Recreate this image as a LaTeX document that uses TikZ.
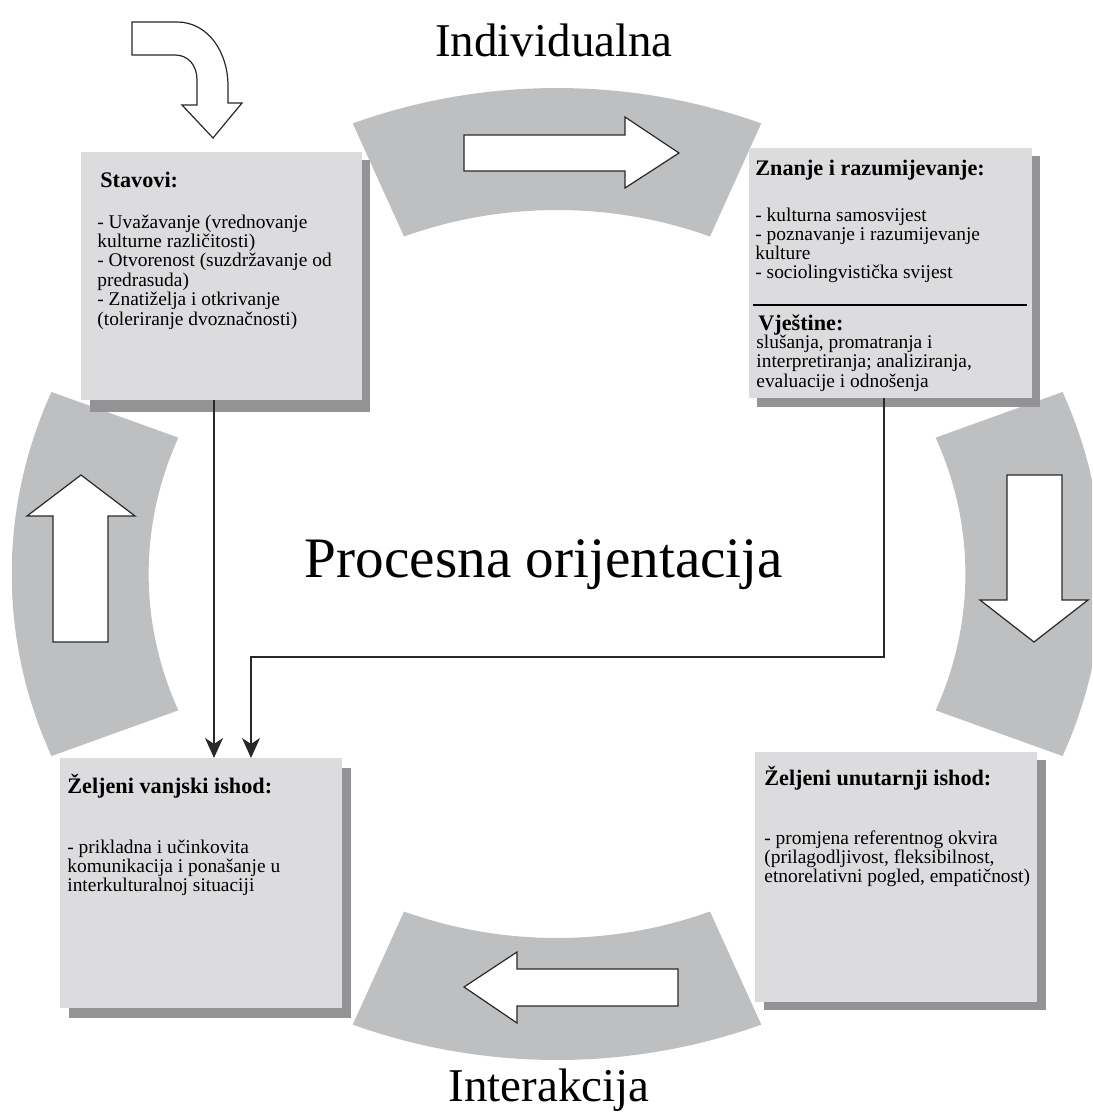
\documentclass[tikz,border=0pt]{standalone}
\usepackage{fontspec}
\setmainfont{Liberation Serif}
\usetikzlibrary{arrows.meta}
\definecolor{arcc}{RGB}{190,191,193}
\definecolor{boxc}{RGB}{220,220,222}
\definecolor{shadc}{RGB}{147,147,150}
\definecolor{linec}{RGB}{40,40,40}
\begin{document}
\begin{tikzpicture}[x=0.5pt,y=-0.5pt,
  sector/.style={fill=arcc},
  blk/.style={fill=white,draw=linec,line width=0.6pt,line join=miter},
  box/.style={fill=boxc,inner sep=0pt,outer sep=0pt},
  shd/.style={fill=shadc},
  conn/.style={draw=linec,line width=0.7pt,-{Stealth[length=10pt,width=9pt,inset=3pt]}},
  big/.style={anchor=base,inner sep=0pt,font=\fontsize{23.5pt}{26pt}\selectfont},
  hd/.style={anchor=base west,inner sep=0pt,font=\fontsize{11.1pt}{13pt}\selectfont\bfseries},
  txt/.style={anchor=base west,inner sep=0pt,font=\fontsize{9.7pt}{11pt}\selectfont}]
\useasboundingbox (0,0) rectangle (1092,1113);
\clip (0,0) rectangle (1092,1113);

% ring sectors
\fill[sector] plot[domain=248:292,samples=40] ({557+545.3*cos(\x)},{574+486*sin(\x)})
  -- plot[domain=292:248,samples=40] ({557+408.4*cos(\x)},{574+364*sin(\x)}) -- cycle;
\fill[sector] plot[domain=-22:22,samples=40] ({557+545.3*cos(\x)},{574+486*sin(\x)})
  -- plot[domain=22:-22,samples=40] ({557+408.4*cos(\x)},{574+364*sin(\x)}) -- cycle;
\fill[sector] plot[domain=68:112,samples=40] ({557+545.3*cos(\x)},{574+486*sin(\x)})
  -- plot[domain=112:68,samples=40] ({557+408.4*cos(\x)},{574+364*sin(\x)}) -- cycle;
\fill[sector] plot[domain=158:202,samples=40] ({557+545.3*cos(\x)},{574+486*sin(\x)})
  -- plot[domain=202:158,samples=40] ({557+408.4*cos(\x)},{574+364*sin(\x)}) -- cycle;

% block arrows
\draw[blk] (464,135) -- (625,135) -- (625,117) -- (679,153) -- (625,188) -- (625,171) -- (464,171) -- cycle;
\draw[blk] (1007,475) -- (1062,475) -- (1062,600) -- (1088,600) -- (1034,642) -- (980,600) -- (1007,600) -- cycle;
\draw[blk] (53,642) -- (53,516) -- (27,516) -- (81,475) -- (135,516) -- (108,516) -- (108,642) -- cycle;
\draw[blk] (678,969) -- (517,969) -- (517,952) -- (464,987) -- (517,1023) -- (517,1006) -- (678,1006) -- cycle;

% curved arrow
\draw[blk] (132,22) -- (177,22) .. controls (208,22) and (228,52) .. (228,86) -- (228,103) -- (242,103)
  -- (213,138) -- (182,105) -- (197,105) -- (197,80) .. controls (197,65) and (188,55) .. (175,55)
  -- (132,55) -- cycle;

% shadows
\fill[shd] (90,160) rectangle (370,412);
\fill[shd] (757,156) rectangle (1040,407);
\fill[shd] (69,768) rectangle (351,1018);
\fill[shd] (764,760) rectangle (1046,1010);

% boxes
\node[box,minimum width=140.5pt,minimum height=124pt] (stav) at (221.5,276) {};
\node[box,minimum width=141.5pt,minimum height=125pt] (znan) at (890.5,273) {};
\node[box,minimum width=141pt,minimum height=125pt] (vanj) at (201,883) {};
\node[box,minimum width=141pt,minimum height=125pt] (unut) at (896,877) {};
\draw[line width=1pt] (753,305) -- (1027,305);

% big labels
\node[big] (lind) at (554,57) {Individualna};
\node[big] (lint) at (549,1101) {Interakcija};
\node[anchor=base,inner sep=0pt,font=\fontsize{28.6pt}{32pt}\selectfont] (lproc) at (544,577) {Procesna orijentacija};

% Stavovi
\node[hd] (sth) at (100,187) {Stavovi:};
\foreach \t [count=\i] in {{- Uvažavanje (vrednovanje},{kulturne različitosti)},{- Otvorenost (suzdržavanje od},{predrasuda)},{- Znatiželja i otkrivanje},{(toleriranje dvoznačnosti)}}
  \node[txt] (st\i) at (97,{228+19.4*(\i-1)}) {\t};

% Znanje
\node[hd] (znh) at (755,175) {Znanje i razumijevanje:};
\foreach \t [count=\i] in {{- kulturna samosvijest},{- poznavanje i razumijevanje},{kulture},{- sociolingvistička svijest}}
  \node[txt] (zn\i) at (755,{221+19*(\i-1)}) {\t};
\node[hd] (vjh) at (758,330) {Vještine:};
\foreach \t [count=\i] in {{slušanja, promatranja i},{interpretiranja; analiziranja,},{evaluacije i odnošenja}}
  \node[txt] (vj\i) at (756,{348+19.8*(\i-1)}) {\t};

% Zeljeni vanjski
\node[hd] (vah) at (67,793) {Željeni vanjski ishod:};
\foreach \t [count=\i] in {{- prikladna i učinkovita},{komunikacija i ponašanje u},{interkulturalnoj situaciji}}
  \node[txt] (va\i) at (67,{853+19.4*(\i-1)}) {\t};

% Zeljeni unutarnji
\node[hd] (unh) at (764,785) {Željeni unutarnji ishod:};
\foreach \t [count=\i] in {{- promjena referentnog okvira},{(prilagodljivost, fleksibilnost,},{etnorelativni pogled, empatičnost)}}
  \node[txt] (un\i) at (764,{844+19*(\i-1)}) {\t};

% connectors
\coordinate (p1) at (214,0);
\coordinate (k1) at (884,657);
\coordinate (k2) at (251,657);
\draw[conn] (stav.south -| p1) -- (p1 |- vanj.north);
\draw[conn] (znan.south -| k1) -- (k1) -- (k2) -- (k2 |- vanj.north);
\end{tikzpicture}
\end{document}
